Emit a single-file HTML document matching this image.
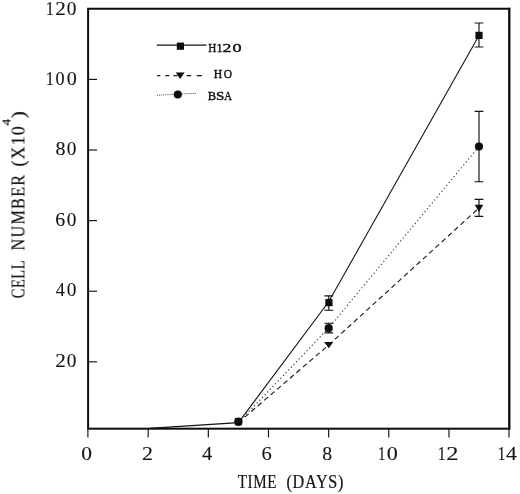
<!DOCTYPE html>
<html>
<head>
<meta charset="utf-8">
<title>Cell number vs time</title>
<style>
  html, body { margin: 0; padding: 0; background: #ffffff; }
  body { width: 520px; height: 494px; overflow: hidden; font-family: "Liberation Serif", serif; }
  svg { display: block; }
  text { font-family: "Liberation Serif", serif; fill: #141414; stroke: #141414; stroke-width: 0.1px; stroke-linejoin: round; }
</style>
</head>
<body>
<svg width="520" height="494" viewBox="0 0 520 494">
  <defs>
    <filter id="soft" x="-2%" y="-2%" width="104%" height="104%"><feGaussianBlur stdDeviation="0.35"/></filter>
  </defs>
  <rect x="0" y="0" width="520" height="494" fill="#ffffff"/>
  <g filter="url(#soft)">

  <rect x="88.1" y="8.75" width="421.10" height="419.95" fill="none" stroke="#0c0c0c" stroke-width="2"/>
  <line x1="509.45" y1="7.75" x2="509.45" y2="429.7" stroke="#0c0c0c" stroke-width="1.7"/>
  <g stroke="#141414" stroke-width="1.15">
    <line x1="87.90" y1="428.7" x2="87.90" y2="437.4"/>
    <line x1="148.16" y1="428.7" x2="148.16" y2="437.4"/>
    <line x1="208.32" y1="428.7" x2="208.32" y2="437.4"/>
    <line x1="268.48" y1="428.7" x2="268.48" y2="437.4"/>
    <line x1="328.64" y1="428.7" x2="328.64" y2="437.4"/>
    <line x1="388.80" y1="428.7" x2="388.80" y2="437.4"/>
    <line x1="448.96" y1="428.7" x2="448.96" y2="437.4"/>
    <line x1="509.00" y1="428.7" x2="509.00" y2="437.4"/>
    <line x1="88.1" y1="79.4" x2="97.0" y2="79.4"/>
    <line x1="88.1" y1="150.0" x2="97.0" y2="150.0"/>
    <line x1="88.1" y1="220.6" x2="97.0" y2="220.6"/>
    <line x1="88.1" y1="291.2" x2="97.0" y2="291.2"/>
    <line x1="88.1" y1="361.8" x2="97.0" y2="361.8"/>
  </g>
  <text transform="translate(81.28,459.55) scale(1.206,1)" font-size="17.8px">0</text>
  <text transform="translate(142.04,459.55) scale(1.233,1)" font-size="17.8px">2</text>
  <text transform="translate(202.10,459.55) scale(1.148,1)" font-size="17.8px">4</text>
  <text transform="translate(261.61,459.55) scale(1.157,1)" font-size="17.8px">6</text>
  <text transform="translate(322.25,459.55) scale(1.113,1)" font-size="17.8px">8</text>
  <text transform="translate(377.98,459.55) scale(0.846,1)" font-size="17.8px">1</text>
  <text transform="translate(386.76,459.55) scale(1.246,1)" font-size="17.8px">0</text>
  <text transform="translate(437.70,459.55) scale(0.894,1)" font-size="17.8px">1</text>
  <text transform="translate(446.33,459.55) scale(1.373,1)" font-size="17.8px">2</text>
  <text transform="translate(497.58,459.55) scale(0.910,1)" font-size="17.8px">1</text>
  <text transform="translate(505.88,459.55) scale(1.221,1)" font-size="17.8px">4</text>
  <text transform="translate(45.65,14.9) scale(0.895,1)" font-size="18.4px">1</text>
  <text transform="translate(55.27,14.9) scale(1.152,1)" font-size="18.4px">2</text>
  <text transform="translate(66.86,14.9) scale(1.051,1)" font-size="18.4px">0</text>
  <text transform="translate(45.65,84.65) scale(0.895,1)" font-size="18.4px">1</text>
  <text transform="translate(55.51,84.65) scale(0.987,1)" font-size="18.4px">0</text>
  <text transform="translate(66.64,84.65) scale(1.090,1)" font-size="18.4px">0</text>
  <text transform="translate(55.44,155.25) scale(1.090,1)" font-size="18.4px">8</text>
  <text transform="translate(66.86,155.25) scale(1.051,1)" font-size="18.4px">0</text>
  <text transform="translate(55.35,225.85) scale(1.081,1)" font-size="18.4px">6</text>
  <text transform="translate(66.86,225.85) scale(1.051,1)" font-size="18.4px">0</text>
  <text transform="translate(55.84,296.45) scale(0.994,1)" font-size="18.4px">4</text>
  <text transform="translate(66.86,296.45) scale(1.051,1)" font-size="18.4px">0</text>
  <text transform="translate(55.27,367.05) scale(1.152,1)" font-size="18.4px">2</text>
  <text transform="translate(66.86,367.05) scale(1.051,1)" font-size="18.4px">0</text>
  <text transform="translate(237.83,487.7) scale(0.840,1)" font-size="18.0px" letter-spacing="0.66" style="stroke-width:0.22px">TIME</text>
  <text transform="translate(286.49,487.7) scale(0.900,1)" font-size="18.0px" letter-spacing="0.78" style="stroke-width:0.22px">(DAYS)</text>
  <g transform="translate(24.5,0) rotate(-90)">
    <text transform="translate(-298.19,0) scale(0.800,1)" font-size="18.0px" letter-spacing="0.73" style="stroke-width:0.22px">CELL</text>
    <text transform="translate(-250.47,0) scale(0.900,1)" font-size="18.0px" letter-spacing="1.40" style="stroke-width:0.22px">NUMBER</text>
    <text transform="translate(-166.49,0) scale(1.000,1)" font-size="18.0px" letter-spacing="1.09" style="stroke-width:0.22px">(X10</text>
    <text transform="translate(-125.56,-13.9) scale(1.160,1)" font-size="11.5px" style="stroke-width:0.22px">4</text>
    <text transform="translate(-118.29,0) scale(1.190,1)" font-size="18.0px" style="stroke-width:0.22px">)</text>
  </g>
  <polyline points="149.0,428.4 238.4,422.6 328.7,301.8 479.0,35.4" fill="none" stroke="#141414" stroke-width="1.1"/>
  <polyline points="238.4,422.6 328.7,345.0 479.0,208.0" fill="none" stroke="#141414" stroke-width="1.1" stroke-dasharray="5 3.5"/>
  <polyline points="238.4,422.6 328.7,328.0 479.0,146.5" fill="none" stroke="#3a3a3a" stroke-width="1.15" stroke-dasharray="1.2 2.6"/>
  <g stroke="#141414" stroke-width="1.15" fill="none">
    <path d="M328.8 295.8 V310.2 M324.40000000000003 295.8 H333.2 M324.40000000000003 310.2 H333.2"/>
    <path d="M479.0 23.0 V47.0 M474.6 23.0 H483.4 M474.6 47.0 H483.4"/>
    <path d="M328.8 323.2 V332.8 M324.40000000000003 323.2 H333.2 M324.40000000000003 332.8 H333.2"/>
    <path d="M479.0 111.3 V181.7 M474.6 111.3 H483.4 M474.6 181.7 H483.4"/>
    <path d="M479.0 199.3 V216.3 M474.6 199.3 H483.4 M474.6 216.3 H483.4"/>
  </g>
  <g fill="#0c0c0c">
    <circle cx="238.4" cy="421.7" r="4.2"/>
    <rect x="234.80" y="418.10" width="7.2" height="7.2"/>
    <rect x="325.30" y="299.00" width="7.2" height="7.2"/>
    <rect x="475.40" y="31.80" width="7.2" height="7.2"/>
    <circle cx="328.7" cy="328.2" r="4.1"/>
    <circle cx="479.0" cy="146.5" r="4.1"/>
    <path d="M324.10 341.9 H333.30 L328.7 348.29999999999995 Z"/>
    <path d="M474.70 204.8 H483.30 L479.0 212.0 Z"/>
  </g>
  <line x1="156.8" y1="45.2" x2="206.5" y2="45.2" stroke="#141414" stroke-width="1.2"/>
  <g fill="#0c0c0c"><rect x="176.80" y="42.60" width="7.2" height="7.2"/></g>
  <text transform="translate(208.18,51.9) scale(0.838,1)" font-size="13.3px" style="stroke-width:0.45px">H</text>
  <text transform="translate(216.43,51.9) scale(0.918,1)" font-size="13.3px" style="stroke-width:0.45px">1</text>
  <text transform="translate(222.62,51.9) scale(1.332,1)" font-size="13.3px" style="stroke-width:0.45px">2</text>
  <text transform="translate(232.61,51.9) scale(1.366,1)" font-size="13.3px" style="stroke-width:0.45px">0</text>
  <path d="M157.1 75.6H160.3M165.3 75.6H169.2M173.5 75.6H177.5M186.6 75.6H191.1M196.8 75.6H201.8" stroke="#141414" stroke-width="1.2" fill="none"/>
  <g fill="#0c0c0c"><path d="M175.80 72.5 H184.60 L180.2 78.9 Z"/></g>
  <text transform="translate(213.86,78.2) scale(0.883,1)" font-size="13.3px" style="stroke-width:0.45px">H</text>
  <text transform="translate(223.63,78.2) scale(0.857,1)" font-size="13.3px" style="stroke-width:0.45px">O</text>
  <line x1="157.0" y1="95.2" x2="196.0" y2="93.3" stroke="#3a3a3a" stroke-width="1.0" stroke-dasharray="1 1.1"/>
  <g fill="#0c0c0c"><circle cx="177.8" cy="94.5" r="4.1"/></g>
  <text transform="translate(207.84,99.8) scale(0.944,1)" font-size="13.3px" style="stroke-width:0.45px">B</text>
  <text transform="translate(216.00,99.8) scale(1.126,1)" font-size="13.3px" style="stroke-width:0.45px">S</text>
  <text transform="translate(224.30,99.8) scale(0.800,1)" font-size="13.3px" style="stroke-width:0.45px">A</text>
  </g>
</svg>
</body>
</html>
